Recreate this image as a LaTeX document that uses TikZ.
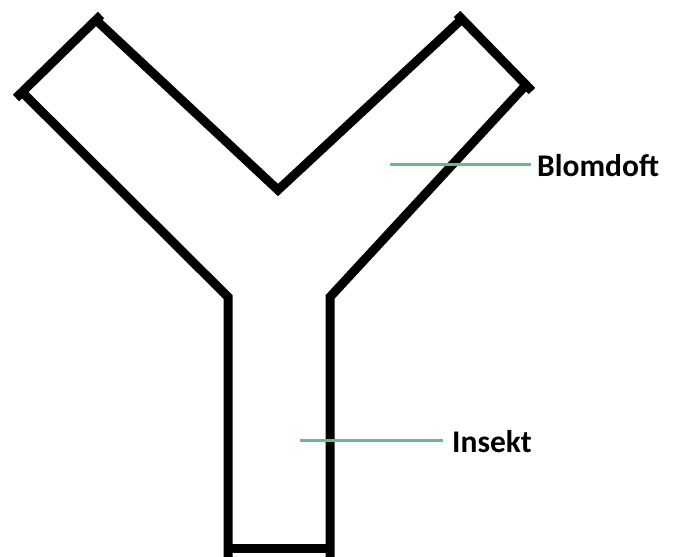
\documentclass[tikz,border=0pt]{standalone}
\usepackage{fontspec}
\setmainfont{Carlito}
\begin{document}
\begin{tikzpicture}[x=1pt,y=-1pt,
  wall/.style={line width=9pt, black, line join=miter},
  pointer/.style={line width=3pt, color=leafgreen},
  lbl/.style={anchor=west, inner sep=0pt, font=\fontsize{31.5}{36}\selectfont\bfseries}]
\definecolor{leafgreen}{RGB}{104,186,136}
\useasboundingbox (0,0) rectangle (678,557);
\fill[white] (0,0) rectangle (678,557);
% walls
\draw[wall] (22,92) -- (228,297) -- (228,560);
\draw[wall] (96,20) -- (278,190) -- (462,19);
\draw[wall] (526,85) -- (330,297) -- (330,560);
\draw[wall] (16,98) -- (101,15);
\draw[wall] (457,14) -- (532,91);
\draw[wall] (224,548) -- (334,548);
% labels
\coordinate (b0) at (390,164);
\coordinate (b1) at (531,164);
\node[lbl] (blom) at (537,166) {Blomdoft};
\draw[pointer] (b0) -- (b1);
\coordinate (i0) at (300,440);
\coordinate (i1) at (443,440);
\node[lbl] (ins) at (452,442) {Insekt};
\draw[pointer] (i0) -- (i1);
\end{tikzpicture}
\end{document}
